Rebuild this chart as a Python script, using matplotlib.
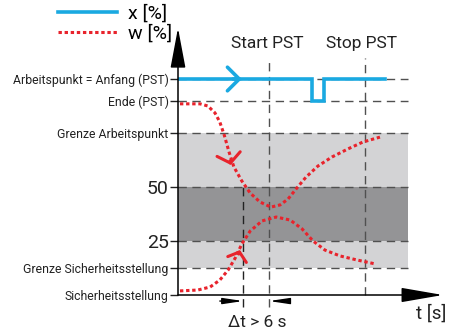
import matplotlib.pyplot as plt
import numpy as np

# Levels on the valve travel axis (%) and their labels
levels = [0, 12.5, 25, 50, 75, 90, 100]
level_labels = ['Sicherheitsstellung', 'Grenze Sicherheitsstellung', '25', '50',
                'Grenze Arbeitspunkt', 'Ende (PST)', 'Arbeitspunkt = Anfang (PST)']

# Controlled variable x during the partial stroke test
x_t = [0, 30.5, 30.5, 33.2, 33.2, 47.0]
x_val = [100, 100, 90, 90, 100, 100]

# Reference variable w, upper and lower curves
w1_t = [0.45, 5.0, 6.8, 8.4, 9.5, 10.5, 11.6, 12.7, 14.5, 16.4, 18.6, 21.1, 23.2,
        25.0, 27.0, 29.1, 31.8, 35.0, 38.6, 42.0, 45.9]
w1_val = [88.5, 88.5, 87.5, 84.3, 80.1, 74.1, 66.2, 59.3, 52.8, 47.2, 43.1, 40.7, 41.7,
          44.4, 49.5, 54.6, 59.7, 63.9, 67.6, 70.8, 73.1]
w2_t = [0.45, 4.5, 7.3, 9.5, 11.4, 13.0, 14.5, 16.4, 19.1, 22.3, 25.5, 28.2, 30.7,
        33.4, 36.8, 40.7, 44.8]
w2_val = [1.9, 2.3, 3.7, 6.9, 11.6, 17.1, 23.6, 29.6, 34.3, 36.1, 34.7, 30.6, 25.0,
          20.8, 18.1, 16.2, 14.4]

# Times
t_start, t_stop, t_delta = 20.7, 42.5, 14.8
t_band = 52.3
t_max, y_max = 60.2, 123.6

blue = '#1aa9e1'
red = '#e8232c'
dash_c = '#505050'
txt_c = '#222222'

fig = plt.figure(figsize=(4.58, 3.29), dpi=100)
PX_X, PX_Y = 4.4, 2.16
ax = fig.add_axes([178 / 458, 34 / 329, t_max * PX_X / 458, y_max * PX_Y / 329])
ax.set_xlim(0, t_max)
ax.set_ylim(0, y_max)
for s in ax.spines.values():
    s.set_visible(False)
ax.set_xticks([])
ax.set_facecolor('none')

font = ['Roboto', 'DejaVu Sans']

# Bands
ax.fill_between([0, t_band], levels[1], levels[4], color='#d3d3d5', lw=0, zorder=0)
ax.fill_between([0, t_band], levels[2], levels[3], color='#949496', lw=0, zorder=0)

# Horizontal dashed lines
for lv in levels[1:]:
    ax.plot([0, t_band], [lv, lv], color=dash_c, lw=1.0, ls=(0, (6, 4)), zorder=1)

# Vertical dashed lines
ax.plot([t_start, t_start], [-5.6, 109.7], color=dash_c, lw=1.0, ls=(0, (6, 4)),
        clip_on=False, zorder=1)
ax.plot([t_stop, t_stop], [0, 109.7], color=dash_c, lw=1.0, ls=(0, (6, 4)),
        clip_on=False, zorder=1)
ax.plot([t_delta, t_delta], [-5.6, 50], color='#222222', lw=1.0, ls=(0, (6, 4)),
        clip_on=False, zorder=1)

# Curves
ax.plot(x_t, x_val, color=blue, lw=2.6, solid_joinstyle='miter', zorder=3,
        label='x [%]')
ax.annotate('', xy=(14.5, 100), xytext=(12.5, 100),
            arrowprops=dict(arrowstyle='->,head_length=0.85,head_width=0.85',
                            color=blue, lw=2.6, shrinkA=0, shrinkB=0), zorder=3)
ax.plot(w1_t, w1_val, color=red, lw=2.2, ls=(0, (1.1, 0.9)), zorder=3,
        label='w [%]')
ax.plot(w2_t, w2_val, color=red, lw=2.2, ls=(0, (1.1, 0.9)), zorder=3)
ax.annotate('', xy=(12.0, 60.2), xytext=(-0.6, 3), textcoords='offset points',
            arrowprops=dict(arrowstyle='->,head_length=0.66,head_width=0.85',
                            color=red, lw=2.2, shrinkA=0, shrinkB=0), zorder=4)
ax.annotate('', xy=(14.1, 20.8), xytext=(-0.9, -2.85), textcoords='offset points',
            arrowprops=dict(arrowstyle='->,head_length=0.57,head_width=0.7',
                            color=red, lw=2.2, shrinkA=0, shrinkB=0), zorder=4)

# Axes with arrows
ax.annotate('', xy=(0, y_max), xytext=(0, 0),
            arrowprops=dict(arrowstyle='-|>,head_length=2.5,head_width=0.47',
                            color='black', lw=1.1, shrinkA=0, shrinkB=0),
            annotation_clip=False, zorder=5)
ax.annotate('', xy=(t_max, 0), xytext=(0, 0),
            arrowprops=dict(arrowstyle='-|>,head_length=2.6,head_width=0.45',
                            color='black', lw=1.1, shrinkA=0, shrinkB=0),
            annotation_clip=False, zorder=5)

# Delta t arrows
for x0, x1 in [(9.5, t_delta), (25.5, t_start)]:
    ax.annotate('', xy=(x1, -2.8), xytext=(x0, -2.8),
                arrowprops=dict(arrowstyle='-|>,head_length=1.2,head_width=0.18',
                                color='black', lw=1.0, shrinkA=0, shrinkB=0),
                annotation_clip=False)

# Y ticks
ax.set_yticks(levels, level_labels)
ax.tick_params(axis='y', direction='out', length=5.8, width=1.0, pad=1,
               labelsize=8.8, colors=txt_c)
for lbl in ax.get_yticklabels():
    lbl.set_family(font)
    if lbl.get_text() in ('25', '50'):
        lbl.set_fontsize(14)

# Texts
ax.text(20.2, 116.4, 'Start PST', ha='center', va='center', fontsize=12.5,
        family=font, color=txt_c)
ax.text(41.8, 116.4, 'Stop PST', ha='center', va='center', fontsize=12.5,
        family=font, color=txt_c)
ax.text(57.5, -8.6, 't [s]', ha='center', va='center', fontsize=13.5,
        family=font, color=txt_c)
ax.text(17.9, -12.6, '\u0394t > 6 s', ha='center', va='center', fontsize=12.5,
        family=font, color=txt_c)

# Legend
fig.legend(loc='upper left', bbox_to_anchor=(58 / 458, 1 - 4 / 329),
           frameon=False, borderpad=0, borderaxespad=0, handlelength=3.05,
           handletextpad=0.55, labelspacing=0.1,
           prop=dict(family=font, size=14))

fig.savefig('out.png', dpi=100)
